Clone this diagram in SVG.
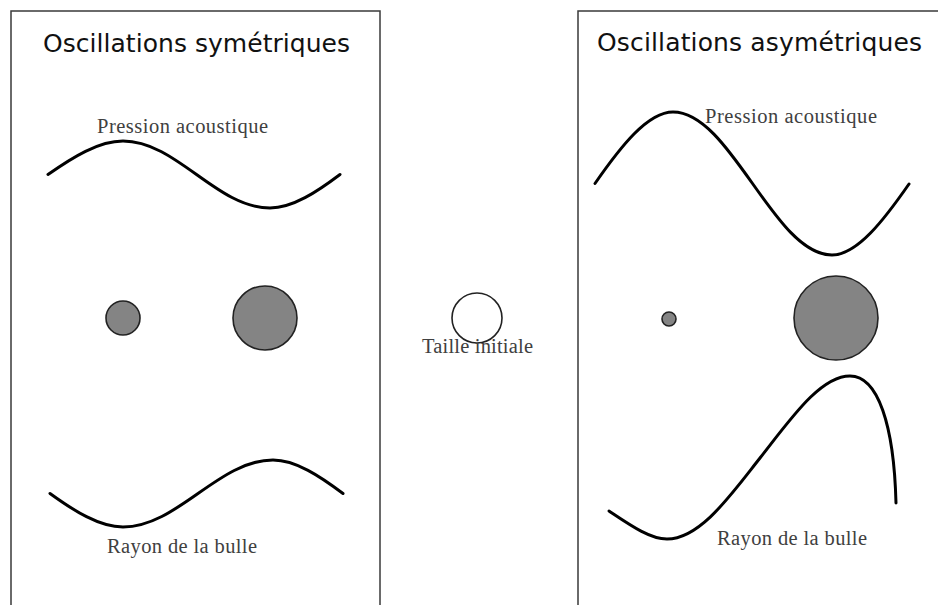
<svg xmlns="http://www.w3.org/2000/svg" width="938" height="605" viewBox="0 0 938 605">
<style>
.frame{fill:none;stroke:#3a3a3a;stroke-width:1.5}
.title{font-family:"DejaVu Sans",Verdana,sans-serif;font-size:25px;fill:#111}
.lbl{font-family:"Liberation Serif","Times New Roman",serif;font-size:20.5px;fill:#404040}
.wave{fill:none;stroke:#000;stroke-width:3;stroke-linecap:round}
.bub{fill:#848484;stroke:#222;stroke-width:1.6}
.init{fill:#fff;stroke:#222;stroke-width:1.6}
</style>
<rect width="938" height="605" fill="#fff"/>
<g id="panel-sym">
<rect class="frame" x="11" y="11" width="369" height="620"/>
<text class="title" x="43" y="52" textLength="307">Oscillations symétriques</text>
</g>
<g id="panel-asym">
<rect class="frame" x="578" y="11" width="380" height="620"/>
<text class="title" x="597" y="51" textLength="325">Oscillations asymétriques</text>
</g>
<g id="connectors">
<path id="sym-pression" class="wave" d="M48,174.5 C72.5,157.3 98.5,141 123,141 C176.5,141 216.5,208 270,208 C292.8,208 317.2,191.7 340,174.5"/>
<path id="sym-rayon" class="wave" d="M50,493.5 C73.8,510.7 99.2,527 123,527 C177.6,527 218.4,460 273,460 C295.8,460 320.2,476.3 343,493.5"/>
<path id="asym-pression" class="wave" d="M595,183.5 C620.4,146.9 647.6,112 673,112 C730.9,112 774.1,255 832,255 C857.1,255 883.9,220.1 909,184"/>
<path id="asym-rayon" class="wave" d="M609,511 C630,525 650,539 667,539 C700,539 730,496 760,458 C790,420 820,376 850,376 C878,376 894,425 896,503"/>
</g>
<g id="label-sym-pression"><text class="lbl" x="97" y="133" textLength="171">Pression acoustique</text></g>
<g id="label-sym-rayon"><text class="lbl" x="107" y="553" textLength="150">Rayon de la bulle</text></g>
<g id="label-asym-pression"><text class="lbl" x="705" y="123" textLength="172">Pression acoustique</text></g>
<g id="label-asym-rayon"><text class="lbl" x="717" y="545" textLength="150">Rayon de la bulle</text></g>
<g id="bubble-sym-small"><circle class="bub" cx="123" cy="318" r="17"/></g>
<g id="bubble-sym-large"><circle class="bub" cx="265" cy="318" r="32"/></g>
<g id="bubble-initial">
<circle class="init" cx="477" cy="318" r="25"/>
<text class="lbl" x="422" y="353" textLength="111">Taille initiale</text>
</g>
<g id="bubble-asym-small"><circle class="bub" cx="669" cy="319" r="7"/></g>
<g id="bubble-asym-large"><circle class="bub" cx="836" cy="318" r="42"/></g>
</svg>
